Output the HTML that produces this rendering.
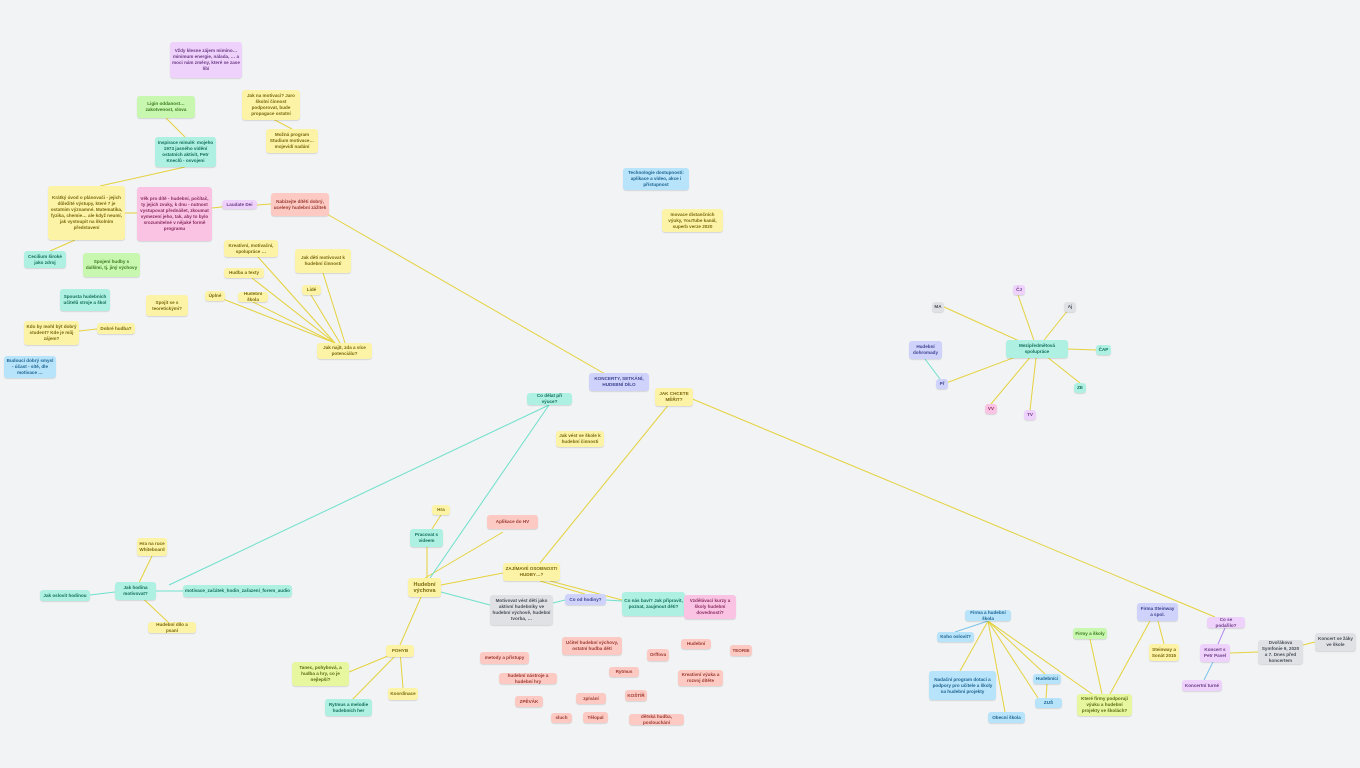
<!DOCTYPE html>
<html><head><meta charset="utf-8"><style>
html,body{margin:0;padding:0}
body{width:1360px;height:768px;background:#f1f3f5;position:relative;overflow:hidden;font-family:"Liberation Sans",sans-serif}
svg{position:absolute;left:0;top:0}
.n{position:absolute;box-sizing:border-box;border-radius:3px;font-size:4.6px;line-height:6px;font-weight:bold;display:flex;align-items:center;justify-content:center;text-align:center;padding:1px 2px;box-shadow:0 1px 1px rgba(0,0,0,.12);overflow:hidden}
.y{background:#fdf3a6;color:#7a6a10}.t{background:#aef0e2;color:#14705d}.p{background:#fbc3e3;color:#8a2f62}
.pu{background:#efd2fb;color:#6b3c86}.l{background:#cfd3fb;color:#3e438f}.s{background:#fcc9c3;color:#9c3b31}
.g{background:#c8f7b0;color:#3d7a1f}.lg{background:#e7f7a0;color:#5d6b10}.b{background:#b7e3fb;color:#1f6590}.gr{background:#dfe1e5;color:#4a5058}
</style></head><body>
<svg width="1360" height="768">
<g stroke="#e5d23c" stroke-width="1" fill="none">
<line x1="166" y1="118" x2="185" y2="137"/><line x1="271" y1="118" x2="292" y2="129"/>
<line x1="185" y1="167" x2="100" y2="186"/><line x1="125" y1="213" x2="137" y2="213"/>
<line x1="212" y1="208" x2="240" y2="205"/><line x1="257" y1="205" x2="271" y2="204"/>
<line x1="75" y1="240" x2="50" y2="251"/><line x1="97" y1="329" x2="79" y2="331"/>
<line x1="320" y1="210" x2="619" y2="382"/>
<line x1="258" y1="257" x2="335" y2="343"/><line x1="252" y1="278" x2="335" y2="343"/>
<line x1="223" y1="299" x2="335" y2="343"/><line x1="253" y1="302" x2="335" y2="343"/>
<line x1="311" y1="295" x2="340" y2="343"/><line x1="323" y1="273" x2="345" y2="343"/>
<line x1="674" y1="398" x2="540" y2="563"/><line x1="690" y1="398" x2="1215" y2="617"/>
<line x1="441" y1="515" x2="432" y2="529"/><line x1="427" y1="547" x2="427" y2="578"/>
<line x1="425" y1="578" x2="503" y2="532"/><line x1="441" y1="585" x2="503" y2="573"/>
<line x1="421" y1="597" x2="400" y2="645"/><line x1="400" y1="651" x2="349" y2="672"/>
<line x1="400" y1="651" x2="350" y2="702"/><line x1="400" y1="651" x2="403" y2="688"/>
<line x1="540" y1="581" x2="585" y2="594"/><line x1="550" y1="581" x2="622" y2="600"/>
<line x1="135" y1="591" x2="152" y2="556"/><line x1="135" y1="591" x2="168" y2="622"/>
<line x1="1037" y1="349" x2="1018" y2="295"/><line x1="1037" y1="349" x2="944" y2="307"/>
<line x1="1037" y1="349" x2="1068" y2="310"/><line x1="1068" y1="349" x2="1096" y2="350"/>
<line x1="1037" y1="349" x2="946" y2="383"/><line x1="1037" y1="349" x2="1080" y2="383"/>
<line x1="1037" y1="349" x2="991" y2="404"/><line x1="1037" y1="349" x2="1030" y2="410"/>
<line x1="988" y1="621" x2="960" y2="671"/><line x1="988" y1="621" x2="1005" y2="712"/>
<line x1="988" y1="621" x2="1038" y2="698"/><line x1="988" y1="621" x2="1045" y2="674"/>
<line x1="988" y1="621" x2="1092" y2="694"/><line x1="1090" y1="639" x2="1102" y2="694"/>
<line x1="1150" y1="621" x2="1110" y2="694"/><line x1="1158" y1="621" x2="1164" y2="644"/>
<line x1="1047" y1="684" x2="1046" y2="698"/>
<line x1="1230" y1="653" x2="1258" y2="652"/><line x1="1303" y1="645" x2="1315" y2="642"/>
</g>
<g stroke="#6fe0cb" stroke-width="1" fill="none">
<line x1="549" y1="405" x2="169" y2="585"/><line x1="549" y1="405" x2="430" y2="578"/>
<line x1="183" y1="591" x2="156" y2="591"/><line x1="115" y1="592" x2="90" y2="595"/>
<line x1="441" y1="592" x2="490" y2="605"/><line x1="553" y1="603" x2="565" y2="600"/>
<line x1="606" y1="600" x2="622" y2="601"/><line x1="925" y1="359" x2="940" y2="379"/>
</g>
<line x1="988" y1="621" x2="955" y2="632" stroke="#7cc3ea" stroke-width="1"/>
<line x1="1225" y1="628" x2="1218" y2="644" stroke="#b48bef" stroke-width="1"/>
<line x1="1213" y1="662" x2="1204" y2="680" stroke="#7cc3ea" stroke-width="1"/>
</svg>
<div class="n pu" style="left:170px;top:42px;width:72px;height:36px">Vždy klesne zájem mimino… minimum energie, nálada, … a moci nám změny, které se zase líbí</div>
<div class="n g" style="left:137px;top:96px;width:58px;height:22px">Ligin oddanost… zakotvenost, slova</div>
<div class="n y" style="left:242px;top:90px;width:58px;height:30px">Jak na motivaci? Jaro školní činnost podporovat, bude propagace ostatní</div>
<div class="n y" style="left:266px;top:129px;width:52px;height:24px">Možná program Studium motivace… mojevidí nadání</div>
<div class="n t" style="left:155px;top:137px;width:61px;height:30px">Inspirace minulé: mojeho 1973 jasného vidění ostatních aktivit, Petr Kneclů - osvojeni</div>
<div class="n y" style="left:48px;top:186px;width:77px;height:54px">Krátký úvod o plánovači - jejich důležité výstupy, které 7 je ostatním významné. Matematika, fyzika, chemie… ale když neumí, jak vystoupit na školním představení</div>
<div class="n p" style="left:137px;top:187px;width:75px;height:54px">Věk pro dítě - hudební, počítač, ty jejich zvuky, k dnu - nutnost vystupovat přednášet, zkoumat vymezení jeho, tak, aby to bylo srozumitelné v nějaké formě programu</div>
<div class="n pu" style="left:222px;top:200px;width:35px;height:9px">Laudate Dei</div>
<div class="n s" style="left:271px;top:193px;width:58px;height:23px">Nabízejte dítěti dobrý, ucelený hudební zážitek</div>
<div class="n t" style="left:24px;top:251px;width:42px;height:17px">Cecilium široké jako zdroj</div>
<div class="n g" style="left:83px;top:253px;width:57px;height:24px">Spojení hudby s dalšími, tj. jiný výchovy</div>
<div class="n t" style="left:60px;top:289px;width:50px;height:22px">Spousta hudebních učitelů stroje a škol</div>
<div class="n y" style="left:146px;top:295px;width:42px;height:21px">Spojit se s teoretickými?</div>
<div class="n y" style="left:24px;top:321px;width:55px;height:24px">Kdo by mohl být dobrý student? Kde je můj zájem?</div>
<div class="n y" style="left:97px;top:323px;width:38px;height:11px">Dobré hudba?</div>
<div class="n b" style="left:4px;top:356px;width:52px;height:22px">Budoucí dobrý smysl - účast - sítě, dle motivace …</div>
<div class="n y" style="left:224px;top:240px;width:54px;height:17px">Kreativní, motivační, spolupráce …</div>
<div class="n y" style="left:295px;top:249px;width:56px;height:24px">Jak děti motivovat k hudební činnosti</div>
<div class="n y" style="left:224px;top:268px;width:40px;height:10px">Hudba a texty</div>
<div class="n y" style="left:302px;top:285px;width:19px;height:10px">Lidé</div>
<div class="n y" style="left:205px;top:291px;width:20px;height:10px">Úplné</div>
<div class="n y" style="left:238px;top:292px;width:30px;height:10px">Hudební škola</div>
<div class="n y" style="left:317px;top:343px;width:55px;height:16px">Jak najít, zda a více potenciálu?</div>
<div class="n b" style="left:623px;top:168px;width:66px;height:22px">Technologie dostupnosti: aplikace a video, akce i přístupnost</div>
<div class="n y" style="left:662px;top:209px;width:61px;height:23px">Inovace distančních výuky, YouTube kanál, superb verze 2020</div>
<div class="n l" style="left:589px;top:373px;width:60px;height:18px">KONCERTY, SETKÁNÍ, HUDEBNÍ DÍLO</div>
<div class="n y" style="left:655px;top:388px;width:38px;height:18px">JAK CHCETE MĚŘIT?</div>
<div class="n t" style="left:527px;top:393px;width:45px;height:12px">Co dělat při výuce?</div>
<div class="n y" style="left:556px;top:431px;width:48px;height:16px">Jak vést ve škole k hudební činnosti</div>
<div class="n y" style="left:432px;top:505px;width:18px;height:10px">Hra</div>
<div class="n s" style="left:487px;top:515px;width:51px;height:14px">Aplikace do HV</div>
<div class="n t" style="left:410px;top:529px;width:33px;height:18px">Pracovat s videem</div>
<div class="n y" style="left:408px;top:578px;width:33px;height:19px;font-size:5.5px">Hudební výchova</div>
<div class="n y" style="left:503px;top:563px;width:57px;height:18px">ZAJÍMAVÉ OSOBNOSTI HUDBY…?</div>
<div class="n t" style="left:183px;top:585px;width:109px;height:12px">motivace_začátek_hodin_zařazení_forem_audio</div>
<div class="n t" style="left:115px;top:582px;width:41px;height:18px">Jak hodina motivovat?</div>
<div class="n y" style="left:137px;top:538px;width:30px;height:18px">Hra na ruce Whiteboard</div>
<div class="n t" style="left:40px;top:590px;width:50px;height:11px">Jak oslovit hodinou</div>
<div class="n y" style="left:148px;top:622px;width:48px;height:11px">Hudební dílo a psaní</div>
<div class="n gr" style="left:490px;top:595px;width:63px;height:30px">Motivovat vést děti jako aktivní hudebníky ve hudební výchově, hudební tvorba, …</div>
<div class="n l" style="left:565px;top:594px;width:41px;height:11px">Co od hodiny?</div>
<div class="n t" style="left:622px;top:592px;width:63px;height:24px">Co nás baví? Jak připravit, poznat, zaujmout děti?</div>
<div class="n p" style="left:684px;top:595px;width:52px;height:24px">Vzdělávací kurzy a školy hudební dovednosti?</div>
<div class="n y" style="left:386px;top:645px;width:28px;height:12px">POHYB</div>
<div class="n lg" style="left:292px;top:662px;width:57px;height:24px">Tanec, pohybová, a hudba a hry, co je nejlepší?</div>
<div class="n t" style="left:325px;top:699px;width:47px;height:17px">Rytmus a melodie hudebních her</div>
<div class="n y" style="left:388px;top:688px;width:30px;height:12px">Koordinace</div>
<div class="n s" style="left:562px;top:637px;width:60px;height:18px">Učitel hudební výchovy, ostatní hudba dětí</div>
<div class="n s" style="left:480px;top:652px;width:49px;height:12px">metody a přístupy</div>
<div class="n s" style="left:681px;top:639px;width:30px;height:10px">Hudební</div>
<div class="n s" style="left:730px;top:645px;width:22px;height:11px">TEORIE</div>
<div class="n s" style="left:647px;top:649px;width:22px;height:12px">Orffova</div>
<div class="n s" style="left:499px;top:673px;width:58px;height:11px">hudební nástroje a hudební hry</div>
<div class="n s" style="left:609px;top:667px;width:30px;height:10px">Rytmus</div>
<div class="n s" style="left:678px;top:670px;width:45px;height:16px">Kreativní výuka a rozvoj dítěte</div>
<div class="n s" style="left:576px;top:693px;width:30px;height:11px">zpívání</div>
<div class="n s" style="left:625px;top:690px;width:22px;height:11px">KOŠTÍŘ</div>
<div class="n s" style="left:515px;top:696px;width:28px;height:11px">ZPĚVÁK</div>
<div class="n s" style="left:551px;top:713px;width:21px;height:10px">sluch</div>
<div class="n s" style="left:583px;top:712px;width:25px;height:11px">Tělopal</div>
<div class="n s" style="left:629px;top:714px;width:55px;height:11px">dětská hudba, poslouchání</div>
<div class="n t" style="left:1006px;top:340px;width:62px;height:18px">Mezipředmětová spolupráce</div>
<div class="n pu" style="left:1013px;top:285px;width:12px;height:10px">ČJ</div>
<div class="n gr" style="left:932px;top:302px;width:12px;height:10px">MA</div>
<div class="n gr" style="left:1064px;top:302px;width:12px;height:10px">Aj</div>
<div class="n l" style="left:909px;top:341px;width:33px;height:18px">Hudební dohromady</div>
<div class="n t" style="left:1096px;top:345px;width:15px;height:10px">ČAP</div>
<div class="n l" style="left:936px;top:379px;width:12px;height:10px">Př</div>
<div class="n t" style="left:1074px;top:383px;width:12px;height:10px">ZE</div>
<div class="n p" style="left:985px;top:404px;width:12px;height:10px">VV</div>
<div class="n pu" style="left:1024px;top:410px;width:12px;height:10px">TV</div>
<div class="n b" style="left:965px;top:610px;width:46px;height:11px">Firma a hudební škola</div>
<div class="n b" style="left:937px;top:632px;width:37px;height:10px">Koho oslovit?</div>
<div class="n l" style="left:1137px;top:603px;width:41px;height:18px">Firma Steinway a spol.</div>
<div class="n g" style="left:1073px;top:628px;width:34px;height:11px">Firmy a školy</div>
<div class="n pu" style="left:1207px;top:617px;width:38px;height:11px">Co se podařilo?</div>
<div class="n y" style="left:1149px;top:644px;width:30px;height:17px">Steinway a Sonát 2015</div>
<div class="n pu" style="left:1200px;top:644px;width:30px;height:18px">Koncert s Petr Pavel</div>
<div class="n gr" style="left:1258px;top:640px;width:45px;height:24px">Dvořákova Symfonie 9, 2020 a 7. Dnes před koncertem</div>
<div class="n gr" style="left:1315px;top:633px;width:41px;height:18px">Koncert se žáky ve škole</div>
<div class="n b" style="left:929px;top:671px;width:67px;height:29px">Nadační program dotací a podpory pro učitele a školy na hudební projekty</div>
<div class="n b" style="left:1033px;top:674px;width:28px;height:10px">Hudebníci</div>
<div class="n b" style="left:1035px;top:698px;width:27px;height:10px">ZUŠ</div>
<div class="n pu" style="left:1182px;top:680px;width:40px;height:11px">Koncertní turné</div>
<div class="n lg" style="left:1077px;top:694px;width:55px;height:22px">Které firmy podporují výuku a hudební projekty ve školách?</div>
<div class="n b" style="left:988px;top:712px;width:37px;height:11px">Obecní škola</div>
</body></html>
